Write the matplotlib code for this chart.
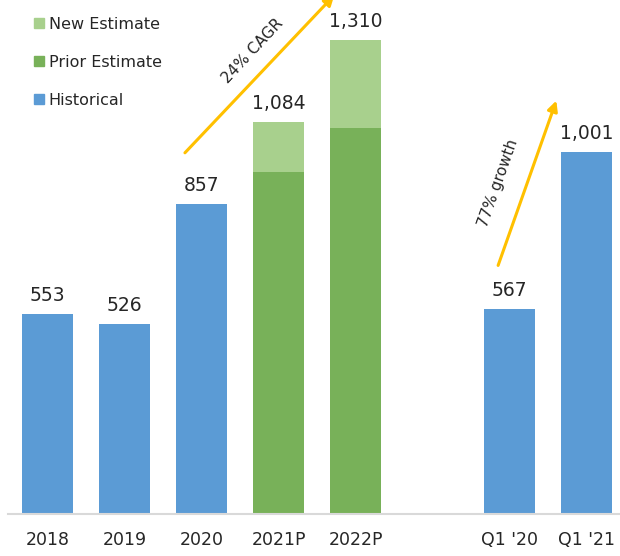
import matplotlib.pyplot as plt
from matplotlib.patches import Patch

# data
labels = ["2018", "2019", "2020", "2021P", "2022P", "Q1 '20", "Q1 '21"]
positions = [0, 1, 2, 3, 4, 6, 7]
historical = [553, 526, 857, 0, 0, 567, 1001]
prior_est = [0, 0, 0, 945, 1067, 0, 0]
new_est = [0, 0, 0, 1084, 1310, 0, 0]
totals = [553, 526, 857, 1084, 1310, 567, 1001]

blue = "#5B9BD5"
dark_green = "#78B159"
light_green = "#A8D08D"
arrow_col = "#FFC000"
txt = "#262626"

fig = plt.figure(figsize=(6.2, 5.56), dpi=100)
ax = fig.add_axes([0, 0.0755, 1, 0.9245])

w = 0.67
for x, h, p, n, t in zip(positions, historical, prior_est, new_est, totals):
    if h:
        ax.bar(x, h, width=w, color=blue)
    if n:
        ax.bar(x, n, width=w, color=light_green)
        ax.bar(x, p, width=w, color=dark_green)
    ax.text(x, t + 25, f"{t:,}", ha="center", va="bottom", fontsize=13.5, color=txt)

ax.set_xlim(-0.617, 7.435)
ax.set_ylim(0, 1421)
ax.set_xticks(positions)
ax.set_xticklabels(labels, fontsize=12.5, color=txt)
ax.tick_params(axis="x", length=0, pad=12)
ax.set_yticks([])
for s in ["top", "right", "left"]:
    ax.spines[s].set_visible(False)
ax.spines["bottom"].set_color("#D9D9D9")
ax.spines["bottom"].set_linewidth(1.5)
ax.spines["bottom"].set_bounds(-0.51, 7.5)

# growth arrows
ax.annotate("", xy=(3.75, 1440), xytext=(1.76, 993),
            arrowprops=dict(arrowstyle="-|>", color=arrow_col, lw=2.2, mutation_scale=15),
            annotation_clip=False)
ax.text(2.66, 1280, "24% CAGR", rotation=47, ha="center", va="center",
        fontsize=11, color=txt)
ax.annotate("", xy=(6.62, 1150), xytext=(5.84, 680),
            arrowprops=dict(arrowstyle="-|>", color=arrow_col, lw=2.2, mutation_scale=15))
ax.text(5.85, 915, "77% growth", rotation=70.5, ha="center", va="center",
        fontsize=11, color=txt)

handles = [Patch(color=light_green, label="New Estimate"),
           Patch(color=dark_green, label="Prior Estimate"),
           Patch(color=blue, label="Historical")]
leg = ax.legend(handles=handles, loc="upper left", bbox_to_anchor=(0.045, 0.98),
                frameon=False, fontsize=11.5, handlelength=0.6, handleheight=0.6,
                handletextpad=0.3, labelspacing=1.45, borderaxespad=0)
for t in leg.get_texts():
    t.set_color(txt)

fig.savefig("out.png", dpi=100)
